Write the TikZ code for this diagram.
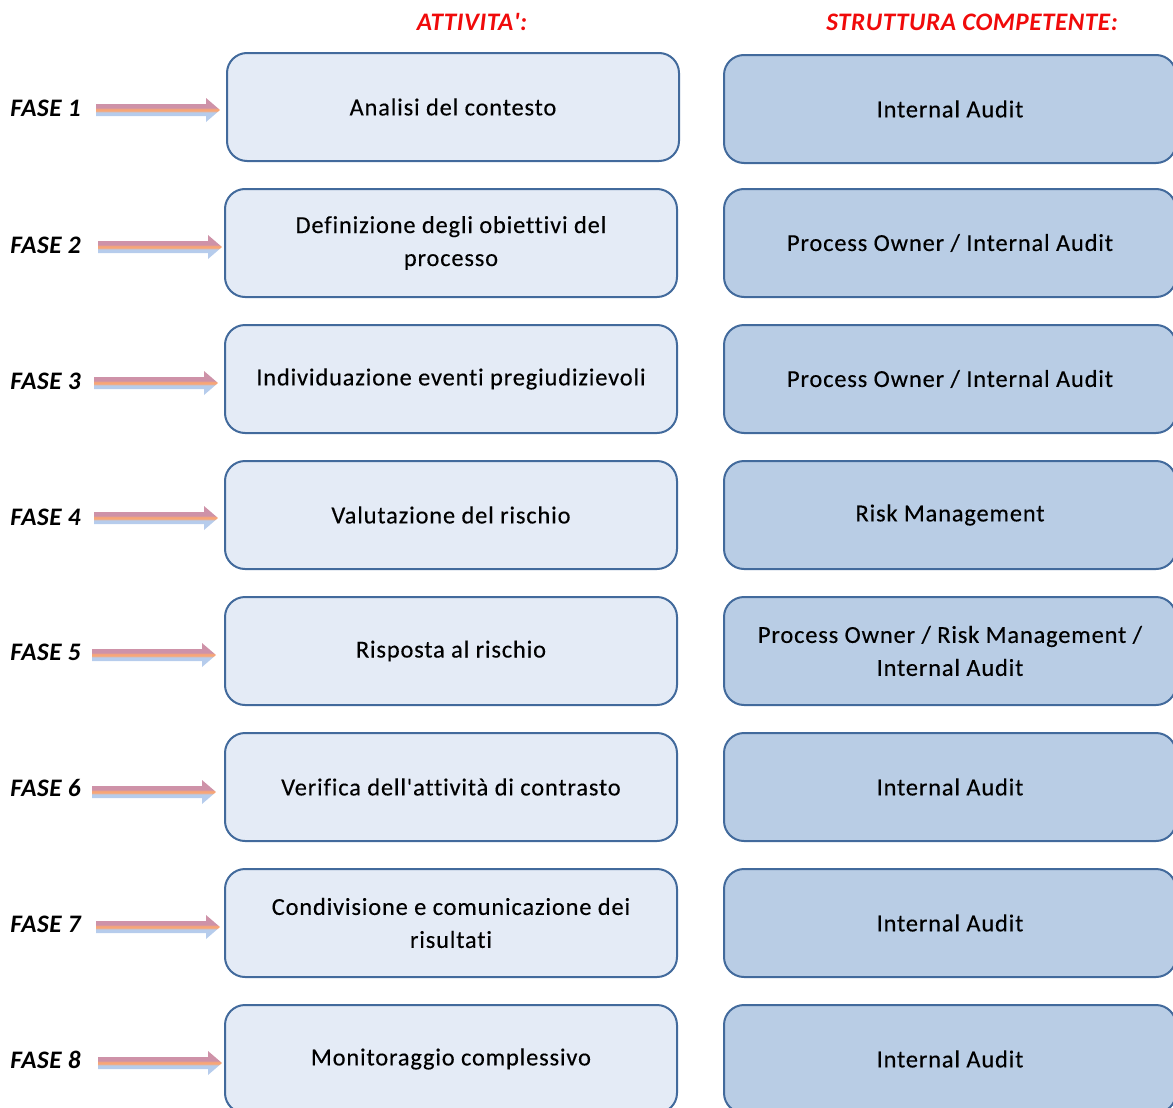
\documentclass[tikz,border=0pt]{standalone}
\usepackage{fontspec}
\setmainfont{Carlito}
\newfontfamily\boxfont{Carlito}[Ligatures=NoCommon, LetterSpace=3.5, FakeBold=0.3]
\newfontfamily\labelfont{Carlito}[Ligatures=NoCommon, LetterSpace=2]
\usetikzlibrary{calc}
\definecolor{boxline}{RGB}{66,106,156}
\definecolor{actfill}{RGB}{228,235,246}
\definecolor{orgfill}{RGB}{185,205,229}
\definecolor{headred}{RGB}{240,10,10}
\definecolor{arrtop}{RGB}{206,146,168}
\definecolor{arrmid}{RGB}{248,166,118}
\definecolor{arrbot}{RGB}{182,204,236}
% pink on top, orange band in the middle, light blue below
\pgfdeclareverticalshading{phaseshade}{100bp}{%
  color(0bp)=(arrbot); color(45bp)=(arrbot); color(48.5bp)=(arrmid);
  color(51.5bp)=(arrmid); color(55bp)=(arrtop); color(100bp)=(arrtop)}
\tikzset{
  phasebox/.style={draw=boxline, line width=1pt, rounded corners=10pt,
    minimum width=226pt, minimum height=54pt, align=center,
    font=\boxfont\fontsize{12.2}{16.5}\selectfont, inner sep=0pt},
  actbox/.style={phasebox, fill=actfill},
  orgbox/.style={phasebox, fill=orgfill},
  phaselabel/.style={anchor=west, font=\labelfont\fontsize{12.6}{14}\selectfont\bfseries\itshape, inner sep=0pt},
  header/.style={font=\labelfont\fontsize{12.6}{14}\selectfont\bfseries\itshape, text=headred, inner sep=0pt},
}
% block arrow with a vertical gradient, from start coordinate #1 to tip coordinate #2
\newcommand{\phasearrow}[2]{%
  \shade[shading=phaseshade]
    ($(#1)+(0,-6)$) -- ($(#2)+(-14,-6)$) -- ($(#2)+(-14,-12)$) -- (#2)
    -- ($(#2)+(-14,12)$) -- ($(#2)+(-14,6)$) -- ($(#1)+(0,6)$) -- cycle;}
\begin{document}
\begin{tikzpicture}[x=0.5pt,y=-0.5pt]
\useasboundingbox (0,0) rectangle (1173,1108);
\clip (0,0) rectangle (1173,1108);

% column headers
\node[header] (h1) at (472,22) {ATTIVITA':};
\node[header] (h2) at (972,22) {STRUTTURA COMPETENTE:};

% activity boxes
\node[actbox] (a1) at (453,107) {Analisi del contesto};
\node[actbox] (a2) at (451,243) {Definizione degli obiettivi del\\processo};
\node[actbox] (a3) at (451,379) {Individuazione eventi pregiudizievoli};
\node[actbox] (a4) at (451,515) {Valutazione del rischio};
\node[actbox] (a5) at (451,651) {Risposta al rischio};
\node[actbox] (a6) at (451,787) {Verifica dell'attività di contrasto};
\node[actbox] (a7) at (451,923) {Condivisione e comunicazione dei\\risultati};
\node[actbox] (a8) at (451,1059) {Monitoraggio complessivo};

% responsible structures
\node[orgbox] (o1) at (950,109) {Internal Audit};
\node[orgbox] (o2) at (950,243) {Process Owner / Internal Audit};
\node[orgbox] (o3) at (950,379) {Process Owner / Internal Audit};
\node[orgbox] (o4) at (950,515) {Risk Management};
\node[orgbox] (o5) at (950,651) {Process Owner / Risk Management /\\Internal Audit};
\node[orgbox] (o6) at (950,787) {Internal Audit};
\node[orgbox] (o7) at (950,923) {Internal Audit};
\node[orgbox] (o8) at (950,1059) {Internal Audit};

% phase labels
\node[phaselabel] (f1) at (10,108) {FASE 1};
\node[phaselabel] (f2) at (10,245) {FASE 2};
\node[phaselabel] (f3) at (10,381) {FASE 3};
\node[phaselabel] (f4) at (10,517) {FASE 4};
\node[phaselabel] (f5) at (10,652) {FASE 5};
\node[phaselabel] (f6) at (10,788) {FASE 6};
\node[phaselabel] (f7) at (10,924) {FASE 7};
\node[phaselabel] (f8) at (10,1060) {FASE 8};

% arrows from each phase to its activity
\foreach \i/\sx/\y/\ex in {1/96/110/220, 2/98/247/222, 3/94/383/218, 4/94/518/218,
                           5/92/655/216, 6/92/792/216, 7/96/927/220, 8/98/1063/222}{
  \coordinate (s\i) at (\sx,\y);
  \coordinate (e\i) at (\ex,\y);
  \phasearrow{s\i}{e\i}
}
\end{tikzpicture}
\end{document}
